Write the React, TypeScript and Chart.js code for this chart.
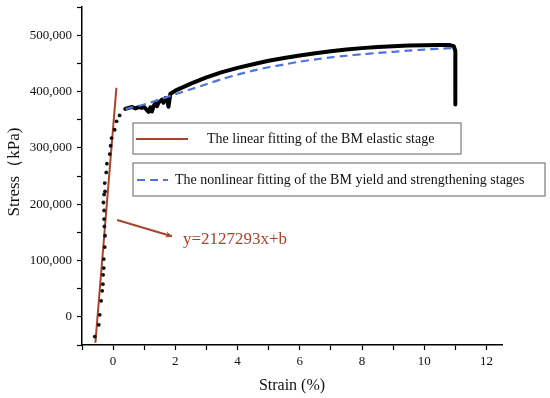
import React, { useEffect, useRef } from "react";
import { Chart, registerables } from "chart.js";
Chart.register(...registerables);

// Axis limits and labels
const strainMin = -1;
const strainMax = 12.5;
const stressMin = -50000;
const stressMax = 550000;
const strainTicks = [-1, 0, 1, 2, 3, 4, 5, 6, 7, 8, 9, 10, 11, 12];
const stressTicks = [-50000, 0, 50000, 100000, 150000, 200000, 250000, 300000, 350000, 400000, 450000, 500000, 550000];
const xTitle = "Strain (%)";
const yTitle = "Stress（kPa)";

// Measured points of the elastic stage (dots)
const elasticStrain = [-0.59, -0.46, -0.43, -0.385, -0.35, -0.33, -0.32, -0.3, -0.3, -0.27, -0.26, -0.28, -0.29, -0.29, -0.31, -0.29, -0.26, -0.27, -0.22, -0.2, -0.11, -0.08, -0.05, 0.05, 0.11, 0.21];
const elasticStress = [-35000, -14200, 3600, 28400, 46200, 58000, 74600, 86500, 102500, 123800, 143900, 160400, 173500, 188800, 203000, 217200, 222600, 237500, 256300, 271800, 289000, 303700, 317400, 332100, 347000, 357500];

// Linear fitting line of the elastic stage
const linearStrain = [-0.57, 0.106];
const linearStress = [-46000, 406700];

// Measured stress-strain curve (yield + strengthening + fracture)
const curveStrain = [0.39, 0.5, 0.61, 0.72, 0.82, 0.92, 1.0, 1.07, 1.14, 1.2, 1.25, 1.3, 1.36, 1.41, 1.46, 1.52, 1.57, 1.62, 1.68, 1.74, 1.78, 1.84, 1.92, 2.0, 2.5, 3, 3.5, 4, 4.5, 5, 5.5, 6, 6.5, 7, 7.5, 8, 8.5, 9, 9.5, 10, 10.5, 10.8, 10.95, 11.0, 11.0];
const curveStress = [369000, 371000, 372500, 370000, 372500, 371000, 372500, 368000, 364000, 372000, 364500, 374000, 379600, 374000, 380700, 383000, 385400, 380000, 388500, 386000, 373000, 396000, 398500, 401500, 414000, 425000, 434500, 442000, 448500, 454500, 459500, 464000, 468000, 471500, 474500, 477000, 479000, 480500, 481500, 482000, 482500, 482500, 480500, 472000, 377000];

// Nonlinear fitting of yield and strengthening stages
const nonlinStrain = [0.4, 1, 1.5, 2, 2.5, 3, 3.5, 4, 4.5, 5, 5.5, 6, 6.5, 7, 7.5, 8, 8.5, 9, 9.5, 10, 10.5, 10.9];
const nonlinStress = [369000, 377000, 386000, 395000, 404000, 413000, 422000, 430000, 437000, 443000, 448000, 453000, 457000, 460500, 463500, 466000, 468500, 470500, 472500, 474500, 476000, 477000];

const legendLabels = [
  "The linear fitting of the BM elastic stage",
  "The nonlinear fitting of the BM yield and strengthening stages",
];
const annotationText = "y=2127293x+b";
// annotation arrow (data coords)
const arrowFrom = [0.13, 172000];
const arrowTo = [1.89, 143000];

const SERIF = '"Liberation Serif", "Times New Roman", serif';
const BROWN = "#A5452A";
const BLUE = "#4F74DA";

const toXY = (xs: number[], ys: number[]) => xs.map((x, i) => ({ x, y: ys[i] }));

const overlayPlugin = {
  id: "overlay",
  afterDraw(chart: any) {
    const ctx = chart.ctx as CanvasRenderingContext2D;
    const xs = chart.scales.x;
    const ys = chart.scales.y;
    ctx.save();
    // axis titles
    ctx.fillStyle = "#111";
    ctx.font = `16px ${SERIF}`;
    ctx.textAlign = "center";
    ctx.textBaseline = "middle";
    ctx.fillText(xTitle, 292, 386);
    ctx.save();
    ctx.translate(15, 172);
    ctx.rotate(-Math.PI / 2);
    ctx.font = `17px ${SERIF}`;
    ctx.fillText(yTitle, 0, 0);
    ctx.restore();

    // legend boxes
    const boxes = [
      { x: 133, y: 123, w: 328, h: 31 },
      { x: 133, y: 163, w: 412, h: 33 },
    ];
    ctx.font = `14px ${SERIF}`;
    ctx.textAlign = "left";
    boxes.forEach((b, i) => {
      ctx.fillStyle = "#fff";
      ctx.fillRect(b.x, b.y, b.w, b.h);
      ctx.strokeStyle = "#858585";
      ctx.lineWidth = 1.3;
      ctx.strokeRect(b.x, b.y, b.w, b.h);
      const cy = b.y + b.h / 2 + 0.5;
      ctx.beginPath();
      if (i === 0) {
        ctx.strokeStyle = BROWN;
        ctx.lineWidth = 2;
        ctx.setLineDash([]);
        ctx.moveTo(136, cy);
        ctx.lineTo(188, cy);
      } else {
        ctx.strokeStyle = BLUE;
        ctx.lineWidth = 2.2;
        ctx.setLineDash([8, 5]);
        ctx.moveTo(137, cy);
        ctx.lineTo(168, cy);
      }
      ctx.stroke();
      ctx.setLineDash([]);
      ctx.fillStyle = "#111";
      ctx.fillText(legendLabels[i], i === 0 ? 207 : 175, cy);
    });

    // annotation arrow
    const x1 = xs.getPixelForValue(arrowFrom[0]);
    const y1 = ys.getPixelForValue(arrowFrom[1]);
    const x2 = xs.getPixelForValue(arrowTo[0]);
    const y2 = ys.getPixelForValue(arrowTo[1]);
    ctx.strokeStyle = BROWN;
    ctx.fillStyle = BROWN;
    ctx.lineWidth = 2;
    ctx.beginPath();
    ctx.moveTo(x1, y1);
    ctx.lineTo(x2, y2);
    ctx.stroke();
    const ang = Math.atan2(y2 - y1, x2 - x1);
    const L = 7;
    ctx.beginPath();
    ctx.moveTo(x2, y2);
    ctx.lineTo(x2 - L * Math.cos(ang - 0.45), y2 - L * Math.sin(ang - 0.45));
    ctx.lineTo(x2 - L * 0.6 * Math.cos(ang), y2 - L * 0.6 * Math.sin(ang));
    ctx.lineTo(x2 - L * Math.cos(ang + 0.45), y2 - L * Math.sin(ang + 0.45));
    ctx.closePath();
    ctx.fill();
    ctx.font = `17px ${SERIF}`;
    ctx.fillStyle = "#A8402A";
    ctx.textAlign = "left";
    ctx.textBaseline = "middle";
    ctx.fillText(annotationText, x2 + 11, y2 + 3);
    ctx.restore();
  },
};

export default function App() {
  const ref = useRef<HTMLCanvasElement | null>(null);
  useEffect(() => {
    if (!ref.current) return;
    const tickFont = { family: SERIF, size: 13 };
    const chart = new Chart(ref.current, {
      type: "scatter",
      data: {
        datasets: [
          {
            label: "curve",
            data: toXY(curveStrain, curveStress),
            showLine: true,
            borderColor: "#000",
            borderWidth: 4,
            pointRadius: 0,
            tension: 0,
            borderJoinStyle: "round",
            borderCapStyle: "round",
            order: 4,
          },
          {
            label: legendLabels[1],
            data: toXY(nonlinStrain, nonlinStress),
            showLine: true,
            borderColor: BLUE,
            borderWidth: 2.2,
            borderDash: [8, 5],
            pointRadius: 0,
            tension: 0.3,
            order: 3,
          },
          {
            label: legendLabels[0],
            data: toXY(linearStrain, linearStress),
            showLine: true,
            borderColor: BROWN,
            borderWidth: 2,
            pointRadius: 0,
            order: 2,
          },
          {
            label: "elastic",
            data: toXY(elasticStrain, elasticStress),
            showLine: false,
            pointRadius: 1.9,
            pointBackgroundColor: "#111",
            pointBorderWidth: 0,
            order: 1,
          },
        ],
      },
      options: {
        animation: false,
        responsive: false,
        maintainAspectRatio: false,
        layout: { padding: { left: 0, right: 48, top: 7, bottom: 0 } },
        plugins: { legend: { display: false }, tooltip: { enabled: false } },
        scales: {
          x: {
            type: "linear",
            min: strainMin,
            max: strainMax,
            afterBuildTicks: (s: any) => {
              s.ticks = strainTicks.map((value) => ({ value }));
            },
            afterFit: (s: any) => {
              s.height = 53;
            },
            border: { display: true, color: "#000", width: 1.5 },
            grid: { drawOnChartArea: false, drawTicks: true, tickLength: 5, tickColor: "#000", tickWidth: 1.2 },
            ticks: {
              autoSkip: false,
              maxRotation: 0,
              padding: 4,
              color: "#111",
              font: tickFont,
              callback: (v: any) => (Number.isInteger(v) && v % 2 === 0 ? String(v) : ""),
            },
          },
          y: {
            type: "linear",
            min: stressMin,
            max: stressMax,
            afterBuildTicks: (s: any) => {
              s.ticks = stressTicks.map((value) => ({ value }));
            },
            afterFit: (s: any) => {
              s.width = 82;
              s.paddingTop = 0;
              s.paddingBottom = 0;
            },
            border: { display: true, color: "#000", width: 1.5 },
            grid: { drawOnChartArea: false, drawTicks: true, tickLength: 5, tickColor: "#000", tickWidth: 1.2 },
            ticks: {
              autoSkip: false,
              padding: 5,
              color: "#111",
              font: tickFont,
              callback: (v: any) => (v % 100000 === 0 ? Number(v).toLocaleString("en-US") : ""),
            },
          },
        },
      },
      plugins: [overlayPlugin],
    } as any);
    return () => chart.destroy();
  }, []);
  return (
    <div style={{ position: "fixed", left: 0, top: 0, width: 550, height: 398, background: "#fff" }}>
      <canvas ref={ref} width={550} height={398} />
    </div>
  );
}
